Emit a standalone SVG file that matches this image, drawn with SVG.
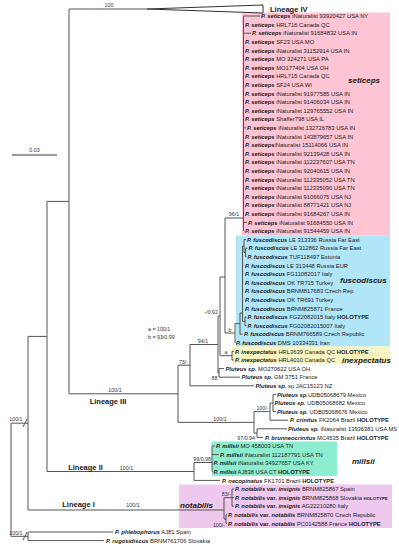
<svg xmlns="http://www.w3.org/2000/svg" width="399" height="550" viewBox="0 0 399 550">
<style>
.br{stroke:#555;stroke-width:1;fill:none}
text{font-family:"Liberation Sans",Arial,sans-serif;fill:#1a1a1a}
.t{font-size:5.8px}
.sp{font-weight:bold;font-style:italic}
.b{font-weight:bold;font-style:normal}
.sm{font-size:4.4px;font-weight:bold}
.s{font-size:5.3px;fill:#333}
.cl{font-size:8px;font-weight:bold;font-style:italic}
.lin{font-size:7.5px;font-weight:bold}
</style>
<rect width="399" height="550" fill="#fff"/>
<g id="clade-boxes">
<rect id="box-seticeps" x="242" y="12.5" width="148" height="223" fill="#fdc5d3"/>
<rect id="box-fuscodiscus" x="236" y="235.5" width="154" height="111" fill="#b1e6f8"/>
<rect id="box-inexpectatus" x="232" y="346.5" width="158" height="17" fill="#f9f5c2"/>
<rect id="box-millsii" x="212" y="441.5" width="125" height="34.5" fill="#8deecf"/>
<rect id="box-notabilis" x="179" y="484.5" width="213" height="43.5" fill="#efc8ee"/>
</g>
<g id="connectors" class="br">
<path d="M11 423.2V536.3M11 423.2H28M11 536.3H28M28 532V540.6M28 532H113M28 540.6H104"/>
<path d="M23 427L27 419M23 540L27 532"/>
<path d="M28 336.4V510M28 336.4H47M47 201.4V471.5M47 201.4H69M69 9V393.8M69 9H147"/>
<path d="M147 9L263 5V13Z" fill="#fff" stroke="#333"/>
<path d="M69 393.8H178M178 365.2V422.4M178 365.2H190M190 344.5V385.8M190 385.8H254M190 344.5H218M218 316V372.9M218 316H220M220 277V355.7M220 277H225M225 218V333M225 218H243.5"/>
<path d="M243.5 16V231M243.5 16H260M243.5 33.2H251M243.5 127.8H246M243.5 222.4H247"/>
<path d="M225 333H235M235 323.6V342.8M235 323.6H240M240 313V334.2M240 334.2H242.5M240 313H242.5M242.5 246V321.3M242.5 246H244M244 239.6V252.5M244 239.6H246M244 252.5H245.5M245.5 248.2V256.8M245.5 248.2H247.5M245.5 256.8H246.5M242.5 321.3H245M245 317V325.6M245 317H246.5M245 325.6H246.5"/>
<path d="M220 355.7H232M232 351.4V360M232 351.4H234M232 360H234M218 372.9H219M219 368.6V377.2M219 368.6H224M219 377.2H240"/>
<path d="M178 422.4H254M254 411.6V433.1M254 411.6H270M270 403V420.2M270 403H273M273 394.4V411.6M273 394.4H276M273 411.6H276M270 420.2H288M254 433.1H257M257 428.8V437.4M257 428.8H287M257 437.4H263"/>
<path d="M47 471.5H194M194 462.5V480.4M194 462.5H212M212 446V471.8M212 446H215M212 454.6H219M194 480.4H220"/>
<path d="M28 510H224M224 497.6V519.1M224 497.6H232M232 489V506.2M232 489H234M232 497.6H234M232 506.2H234M224 519.1H226M226 514.8V523.4M226 514.8H227M226 523.4H227"/>
</g>
<g id="scale-bar">
<path d="M12 155H57" stroke="#777" stroke-width="1.5"/>
<text class="s" x="34.5" y="152" text-anchor="middle">0.03</text>
</g>
<g id="support-labels" class="s">
<text class="s" x="109" y="7.2" text-anchor="middle">100</text>
<text class="s" x="234" y="216" text-anchor="middle">96/1</text>
<text class="s" x="218" y="314" text-anchor="end">-/0.92</text>
<text class="s" x="230" y="331.5" text-anchor="middle">b</text>
<text class="s" x="226" y="354" text-anchor="middle">a</text>
<text class="s" x="203" y="342.5" text-anchor="middle">94/1</text>
<text class="s" x="217.5" y="380" text-anchor="end">88</text>
<text class="s" x="183.5" y="363.5" text-anchor="middle">73/-</text>
<text class="s" x="148" y="331">a = 100/1</text>
<text class="s" x="148" y="338.5">b = 93/0.99</text>
<text class="s" x="115" y="392" text-anchor="middle">100/1</text>
<text class="s" x="220" y="420.5" text-anchor="middle">100/1</text>
<text class="s" x="268.5" y="409.5" text-anchor="end">100/-</text>
<text class="s" x="255" y="439.5" text-anchor="end">97/0.94</text>
<text class="s" x="211" y="460.5" text-anchor="end">99/0.98</text>
<text class="s" x="126.5" y="469.5" text-anchor="middle">100/1</text>
<text class="s" x="231" y="495.5" text-anchor="end">83/-</text>
<text class="s" x="225" y="526.5" text-anchor="end">100/-</text>
<text class="s" x="133" y="507" text-anchor="middle">100/1</text>
<text class="s" x="22.5" y="421" text-anchor="end">100/1</text>
<text class="s" x="22.5" y="534.5" text-anchor="end">100/1</text>
</g>
<g id="lineage-labels" class="lin">
<text class="lin" x="270" y="11.5">Lineage IV</text>
<text class="lin" x="108" y="403.5" text-anchor="middle">Lineage III</text>
<text class="lin" x="85.5" y="469.5" text-anchor="middle">Lineage II</text>
<text class="lin" x="78.5" y="506.5" text-anchor="middle">Lineage I</text>
</g>
<g id="clade-labels">
<text class="cl" x="348" y="83">seticeps</text>
<text class="cl" x="340" y="283">fuscodiscus</text>
<text class="cl" x="342" y="363">inexpectatus</text>
<text class="cl" x="352" y="464">millsii</text>
<text class="cl" x="180" y="507.5">notabilis</text>
</g>
<g id="tips" class="t">
<g id="tip-0"><text class="t" x="261" y="18.1"><tspan class="sp">P. seticeps</tspan> iNaturalist 93920427 USA NY</text></g>
<g id="tip-1"><text class="t" x="245" y="26.7"><tspan class="sp">P. seticeps</tspan> HRL716 Canada QC</text></g>
<g id="tip-2"><text class="t" x="252" y="35.3"><tspan class="sp">P. seticeps</tspan> iNaturalist 91684832 USA IN</text></g>
<g id="tip-3"><text class="t" x="245" y="43.9"><tspan class="sp">P. seticeps</tspan> SF23 USA MO</text></g>
<g id="tip-4"><text class="t" x="245" y="52.5"><tspan class="sp">P. seticeps</tspan> iNaturalist 31152914 USA IN</text></g>
<g id="tip-5"><text class="t" x="245" y="61.1"><tspan class="sp">P. seticeps</tspan> MO 324271 USA PA</text></g>
<g id="tip-6"><text class="t" x="245" y="69.7"><tspan class="sp">P. seticeps</tspan> MO177404 USA OH</text></g>
<g id="tip-7"><text class="t" x="245" y="78.3"><tspan class="sp">P. seticeps</tspan> HRL715 Canada QC</text></g>
<g id="tip-8"><text class="t" x="245" y="86.9"><tspan class="sp">P. seticeps</tspan> SF24 USA WI</text></g>
<g id="tip-9"><text class="t" x="245" y="95.5"><tspan class="sp">P. seticeps</tspan> iNaturalist 91977585 USA IN</text></g>
<g id="tip-10"><text class="t" x="245" y="104.1"><tspan class="sp">P. seticeps</tspan> iNaturalist 91406034 USA IN</text></g>
<g id="tip-11"><text class="t" x="245" y="112.7"><tspan class="sp">P. seticeps</tspan> iNaturalist 129765552 USA IN</text></g>
<g id="tip-12"><text class="t" x="245" y="121.3"><tspan class="sp">P. seticeps</tspan> Shaffer798 USA IL</text></g>
<g id="tip-13"><text class="t" x="247" y="129.9"><tspan class="sp">P. seticeps</tspan> iNaturalist 132726783 USA IN</text></g>
<g id="tip-14"><text class="t" x="245" y="138.5"><tspan class="sp">P. seticeps</tspan> iNaturalist 143879657 USA IN</text></g>
<g id="tip-15"><text class="t" x="245" y="147.1"><tspan class="sp">P. seticeps</tspan>iNaturalist 15114066 USA IN</text></g>
<g id="tip-16"><text class="t" x="245" y="155.7"><tspan class="sp">P. seticeps</tspan> iNaturalist 92139428 USA IN</text></g>
<g id="tip-17"><text class="t" x="245" y="164.3"><tspan class="sp">P. seticeps</tspan> iNaturalist 112237607 USA TN</text></g>
<g id="tip-18"><text class="t" x="245" y="172.9"><tspan class="sp">P. seticeps</tspan> iNaturalist 92040615 USA IN</text></g>
<g id="tip-19"><text class="t" x="245" y="181.5"><tspan class="sp">P. seticeps</tspan> iNaturalist 112335052 USA TN</text></g>
<g id="tip-20"><text class="t" x="245" y="190.1"><tspan class="sp">P. seticeps</tspan> iNaturalist 112335090 USA TN</text></g>
<g id="tip-21"><text class="t" x="245" y="198.7"><tspan class="sp">P. seticeps</tspan> iNaturalist 91066075 USA NJ</text></g>
<g id="tip-22"><text class="t" x="245" y="207.3"><tspan class="sp">P. seticeps</tspan> iNaturalist 88771421 USA NJ</text></g>
<g id="tip-23"><text class="t" x="245" y="215.9"><tspan class="sp">P. seticeps</tspan> iNaturalist 91684267 USA IN</text></g>
<g id="tip-24"><text class="t" x="248" y="224.5"><tspan class="sp">P. seticeps</tspan> iNaturalist 91684550 USA IN</text></g>
<g id="tip-25"><text class="t" x="245" y="233.1"><tspan class="sp">P. seticeps</tspan> iNaturalist 91544459 USA IN</text></g>
<g id="tip-26"><text class="t" x="247" y="241.7"><tspan class="sp">P. fuscodiscus</tspan> LE 313336 Russia Far East</text></g>
<g id="tip-27"><text class="t" x="248.5" y="250.3"><tspan class="sp">P. fuscodiscus</tspan> LE 312862 Russia Far East</text></g>
<g id="tip-28"><text class="t" x="247.5" y="258.9"><tspan class="sp">P. fuscodiscus</tspan> TUF118497 Estonia</text></g>
<g id="tip-29"><text class="t" x="245" y="267.5"><tspan class="sp">P. fuscodiscus</tspan> LE 313448 Russia EUR</text></g>
<g id="tip-30"><text class="t" x="245" y="276.1"><tspan class="sp">P. fuscodiscus</tspan> FG11082017 Italy</text></g>
<g id="tip-31"><text class="t" x="245" y="284.7"><tspan class="sp">P. fuscodiscus</tspan> OK TR715 Turkey</text></g>
<g id="tip-32"><text class="t" x="245" y="293.3"><tspan class="sp">P. fuscodiscus</tspan> BRNM817683 Czech Rep</text></g>
<g id="tip-33"><text class="t" x="245" y="301.9"><tspan class="sp">P. fuscodiscus</tspan> OK TR691 Turkey</text></g>
<g id="tip-34"><text class="t" x="245" y="310.5"><tspan class="sp">P. fuscodiscus</tspan> BRNM825871 France</text></g>
<g id="tip-35"><text class="t" x="247.5" y="319.1"><tspan class="sp">P. fuscodiscus</tspan> FG22082015 Italy <tspan class="b">HOLOTYPE</tspan></text></g>
<g id="tip-36"><text class="t" x="247.5" y="327.7"><tspan class="sp">P. fuscodiscus</tspan> FG02082015007 Italy</text></g>
<g id="tip-37"><text class="t" x="244" y="336.3"><tspan class="sp">P. fuscodiscus</tspan> BRNM766589 Czech Republic</text></g>
<g id="tip-38"><text class="t" x="236" y="344.9"><tspan class="sp">P. fuscodiscus</tspan> DMS 10334331 Iran</text></g>
<g id="tip-39"><text class="t" x="235" y="353.5"><tspan class="sp">P. inexpectatus</tspan> HRL3639 Canada QC <tspan class="b">HOLOTYPE</tspan></text></g>
<g id="tip-40"><text class="t" x="235" y="362.1"><tspan class="sp">P. inexpectatus</tspan> HRL4010 Canada QC</text></g>
<g id="tip-41"><text class="t" x="225.5" y="370.7"><tspan class="sp">Pluteus sp.</tspan> MO270622 USA OH</text></g>
<g id="tip-42"><text class="t" x="241.5" y="379.3"><tspan class="sp">Pluteus sp.</tspan> GM 3751 France</text></g>
<g id="tip-43"><text class="t" x="255.5" y="387.9"><tspan class="sp">Pluteus sp.</tspan> sp JAC15123 NZ</text></g>
<g id="tip-44"><text class="t" x="277" y="396.5"><tspan class="sp">Pluteus sp.</tspan>UDB05068679 Mexico</text></g>
<g id="tip-45"><text class="t" x="274.5" y="405.1"><tspan class="sp">Pluteus sp.</tspan> UDB05068682 Mexico</text></g>
<g id="tip-46"><text class="t" x="277" y="413.7"><tspan class="sp">Pluteus sp.</tspan> UDB05068676 Mexico</text></g>
<g id="tip-47"><text class="t" x="290" y="422.3"><tspan class="sp">P. crinitus</tspan> FK2064 Brazil <tspan class="b">HOLOTYPE</tspan></text></g>
<g id="tip-48"><text class="t" x="288" y="430.9"><tspan class="sp">Pluteus sp.</tspan> iNaturalist 13936381 USA MS</text></g>
<g id="tip-49"><text class="t" x="265" y="439.5"><tspan class="sp">P. brunneocrinitus</tspan> MC4535 Brazil <tspan class="b">HOLOTYPE</tspan></text></g>
<g id="tip-50"><text class="t" x="216" y="448.1"><tspan class="sp">P. millsii</tspan> MO 458003 USA TN</text></g>
<g id="tip-51"><text class="t" x="220" y="456.7"><tspan class="sp">P. millsii</tspan> iNaturalist 112187791 USA TN</text></g>
<g id="tip-52"><text class="t" x="213.5" y="465.3"><tspan class="sp">P. millsii</tspan> iNaturalist 34927657 USA KY</text></g>
<g id="tip-53"><text class="t" x="213.5" y="473.9"><tspan class="sp">P. millsii</tspan> AJ838 USA CT <tspan class="b">HOLOTYPE</tspan></text></g>
<g id="tip-54"><text class="t" x="222" y="482.5"><tspan class="sp">P. necopinatus</tspan> FK1701 Brazil <tspan class="b">HOLOTYPE</tspan></text></g>
<g id="tip-55"><text class="t" x="235" y="491.1"><tspan class="sp">P. notabilis</tspan> <tspan class="b">var.</tspan> <tspan class="sp">insignis</tspan> BRNM825867 Spain</text></g>
<g id="tip-56"><text class="t" x="235" y="499.7"><tspan class="sp">P. notabilis</tspan> <tspan class="b">var.</tspan> <tspan class="sp">insignis</tspan> BRNM825868 Slovakia <tspan class="sm">HOLOTYPE</tspan></text></g>
<g id="tip-57"><text class="t" x="235" y="508.3"><tspan class="sp">P. notabilis</tspan> <tspan class="b">var.</tspan> <tspan class="sp">insignis</tspan> AG22210280 Italy</text></g>
<g id="tip-58"><text class="t" x="228" y="516.9"><tspan class="sp">P. notabilis</tspan> <tspan class="b">var.</tspan> <tspan class="sp">notabilis</tspan> BRNM825870 Czech Republic</text></g>
<g id="tip-59"><text class="t" x="228" y="525.5"><tspan class="sp">P. notabilis</tspan> <tspan class="b">var.</tspan> <tspan class="sp">notabilis</tspan> PC0142588 France <tspan class="b">HOLOTYPE</tspan></text></g>
<g id="tip-60"><text class="t" x="115" y="534.1"><tspan class="sp">P. phlebophorus</tspan> AJ81 Spain</text></g>
<g id="tip-61"><text class="t" x="106" y="542.7"><tspan class="sp">P. rugosidiscus</tspan> BRNM761706 Slovakia</text></g>
</g>
</svg>
